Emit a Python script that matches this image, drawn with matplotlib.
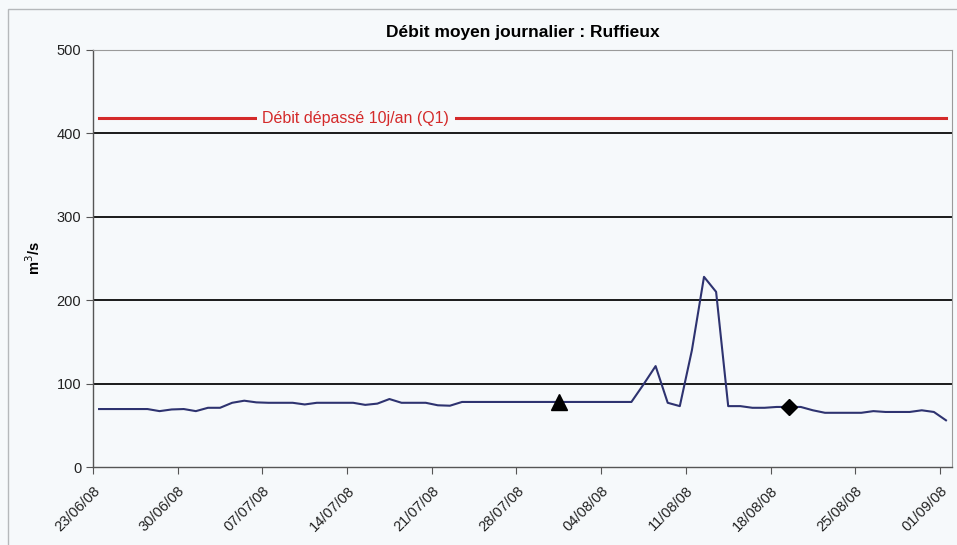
import pandas as pd
import matplotlib.pyplot as plt
import matplotlib.dates as mdates
from matplotlib.patches import Rectangle

plt.rcParams['font.family'] = ['Liberation Sans', 'DejaVu Sans']

# ----------------------------------------------------
# Data (daily mean discharge, m3/s)
# ----------------------------------------------------
start_date = "2008-06-23"
flow = [69.5, 69.5, 69.5, 69.5, 69.5, 67, 69, 69.5, 67, 71,
        71, 77, 79.5, 77.5, 77, 77, 77, 75, 77, 77,
        77, 77, 74.5, 76, 81.5, 77, 77, 77, 74, 73.5,
        78, 78, 78, 78, 78, 78, 78, 78, 78, 78,
        78, 78, 78, 78, 78, 99, 121, 77, 73, 140,
        228, 210, 73, 73, 71, 71, 72, 72, 72, 68,
        65, 65, 65, 65, 67, 66, 66, 66, 68, 66,
        56]
q1_value = 418
q1_label = "Débit dépassé 10j/an (Q1)"

triangle_date = "2008-07-31"
triangle_value = 78
diamond_date = "2008-08-19"
diamond_value = 72

tick_dates = ["2008-06-23", "2008-06-30", "2008-07-07", "2008-07-14",
              "2008-07-21", "2008-07-28", "2008-08-04", "2008-08-11",
              "2008-08-18", "2008-08-25", "2008-09-01"]

days = pd.date_range(start_date, periods=len(flow), freq="D")
half = pd.Timedelta(hours=12)

# ----------------------------------------------------
# Figure
# ----------------------------------------------------
bg = "#f6f9fb"
fig = plt.figure(figsize=(9.57, 5.45), dpi=100, facecolor=bg)
ax = fig.add_axes([0.0972, 0.1431, 0.8976, 0.7652], facecolor=bg)

# outer chart border
fig.patches.append(Rectangle((0.008, -0.01), 1.0, 0.993, transform=fig.transFigure,
                             fill=False, edgecolor="#b5b8bb", linewidth=1.0))

for v in [100, 200, 300, 400]:
    ax.axhline(v, color="#1a1a1a", linewidth=1.4, zorder=1)

ax.plot(days + half, flow, color="#2e3370", linewidth=1.5, zorder=3)

# Q1 threshold line with label
ax.plot([days[0] + half, days[-1] + half], [q1_value, q1_value],
        color="#d42a2a", linewidth=2.2, zorder=3)
ax.text(pd.Timestamp("2008-07-14") + pd.Timedelta(hours=17), q1_value, q1_label,
        color="#d42a2a", fontsize=11.5, ha="center", va="center", zorder=4,
        bbox=dict(facecolor=bg, edgecolor="none", pad=4))

ax.plot([pd.Timestamp(triangle_date) + half], [triangle_value], marker="^",
        color="black", markersize=11, zorder=5)
ax.plot([pd.Timestamp(diamond_date) + half], [diamond_value], marker="D",
        color="black", markersize=8, zorder=5)

ax.set_xlim(pd.Timestamp(start_date), pd.Timestamp(start_date) + pd.Timedelta(days=len(flow)))
ax.set_ylim(0, 500)
ax.set_yticks([0, 100, 200, 300, 400, 500])
ax.set_xticks(pd.to_datetime(tick_dates))
ax.xaxis.set_major_formatter(mdates.DateFormatter("%d/%m/%y"))
ax.tick_params(axis="both", direction="out", length=5, color="#555555",
               labelsize=10.5, labelcolor="#222222")
ax.tick_params(axis="x", pad=7)
plt.setp(ax.get_xticklabels(), rotation=45, ha="right", rotation_mode="anchor")

for side in ["top", "right"]:
    ax.spines[side].set_color("#9a9a9a")
    ax.spines[side].set_linewidth(0.8)
for side in ["left", "bottom"]:
    ax.spines[side].set_color("#555555")
    ax.spines[side].set_linewidth(1.0)

ax.set_ylabel("m$^3$/s", fontsize=10.5, fontweight="bold", labelpad=10)
ax.set_title("Débit moyen journalier : Ruffieux", fontsize=12.5,
             fontweight="bold", pad=9)

fig.savefig("out.png", dpi=100, facecolor=bg)
